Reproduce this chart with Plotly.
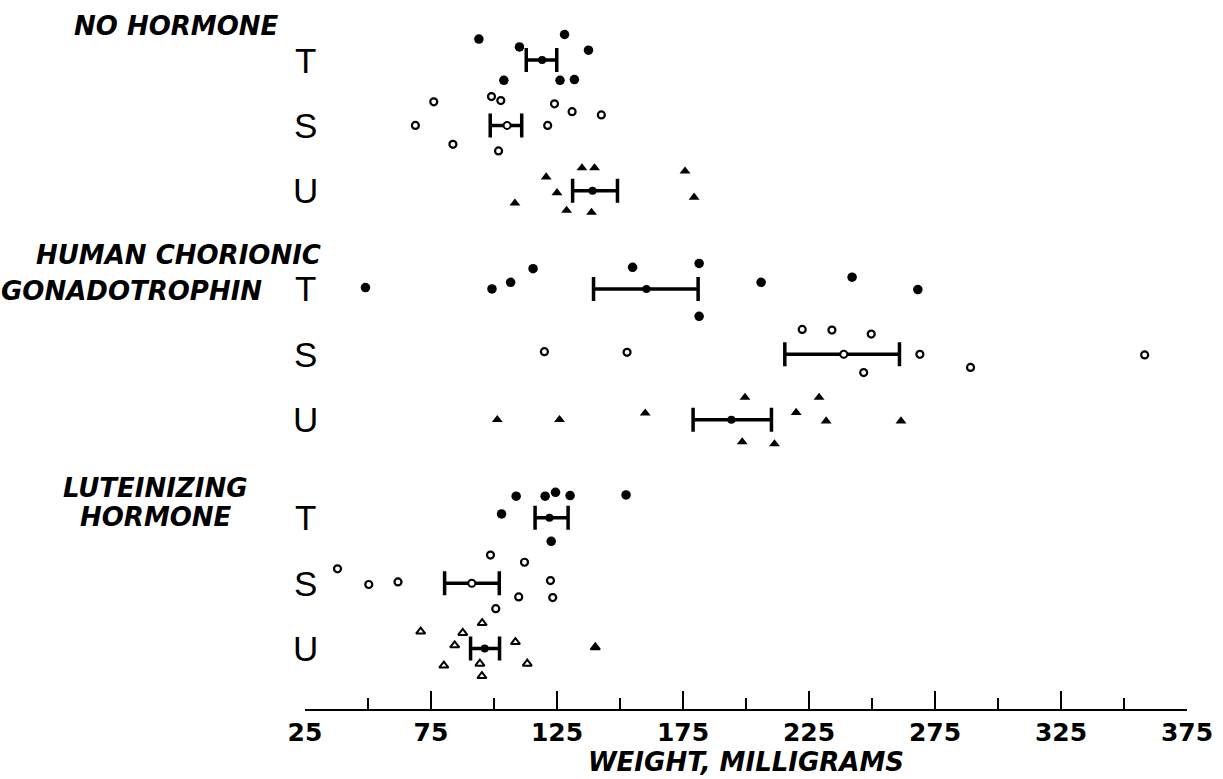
import plotly.graph_objects as go

# ---------------- data (weights, mg) ----------------
groups = ["NO HORMONE", "HUMAN CHORIONIC GONADOTROPHIN", "LUTEINIZING HORMONE"]
row_labels = ["T", "S", "U"]
tick_values = [25, 75, 125, 175, 225, 275, 325, 375]

nh_t = [94.0, 110.1, 128.0, 137.5, 103.9, 126.2, 131.9]
nh_t_dy = [-0.32, -0.20, -0.39, -0.15, 0.31, 0.31, 0.30]
nh_s = [76.1, 68.8, 83.7, 99.0, 102.7, 101.8, 124.0, 131.0, 142.6, 121.3]
nh_s_dy = [-0.36, 0.0, 0.29, -0.44, -0.38, 0.39, -0.33, -0.21, -0.16, 0.0]
nh_u = [120.7, 125.0, 134.9, 139.9, 128.8, 138.7, 108.3, 175.8, 179.4]
nh_u_dy = [-0.21, 0.03, -0.35, -0.35, 0.30, 0.33, 0.19, -0.30, 0.10]

hcg_t = [49.0, 99.2, 106.6, 115.5, 155.0, 181.4, 206.0, 181.4, 242.1, 268.2]
hcg_t_dy = [-0.02, 0.0, -0.10, -0.31, -0.33, -0.39, -0.10, 0.42, -0.18, 0.01]
hcg_s = [120.0, 152.8, 222.3, 234.1, 249.7, 246.7, 269.0, 289.1, 358.2]
hcg_s_dy = [-0.04, -0.03, -0.38, -0.37, -0.31, 0.28, 0.0, 0.20, 0.01]
hcg_u = [101.3, 126.0, 160.0, 199.6, 198.5, 211.3, 229.0, 219.9, 231.8, 261.5]
hcg_u_dy = [0.0, 0.0, -0.10, -0.34, 0.34, 0.37, -0.34, -0.11, 0.02, 0.02]

lh_t = [108.8, 120.3, 124.4, 130.2, 152.4, 103.0, 122.7]
lh_t_dy = [-0.33, -0.33, -0.39, -0.34, -0.35, -0.06, 0.36]
lh_s = [37.9, 50.3, 61.9, 98.6, 112.1, 122.4, 109.8, 123.3, 100.7]
lh_s_dy = [-0.22, 0.02, -0.02, -0.43, -0.32, -0.04, 0.21, 0.22, 0.39]
lh_u = [95.3, 70.9, 87.6, 84.4, 108.5, 80.1, 94.4, 113.2, 95.2, 140.2]
lh_u_dy = [-0.39, -0.26, -0.24, -0.05, -0.10, 0.26, 0.23, 0.23, 0.42, -0.02]

# mean and standard-error limits, in row order NH T,S,U / HCG T,S,U / LH T,S,U
means = [119.1, 105.2, 139.1, 160.5, 238.8, 194.2, 122.0, 91.2, 96.3]
se_low = [112.8, 98.5, 131.2, 139.5, 215.4, 179.0, 116.3, 80.4, 90.7]
se_high = [124.9, 111.0, 149.0, 181.0, 260.9, 210.1, 129.4, 102.1, 102.2]

# ---------------- layout helpers ----------------
W, H = 1223, 779
L, R, T, B = 305, 36, 5, 70
ROW0_PX, ROW_STEP = 60.0, 65.4
row_pos = [0, 1, 2, 3.5, 4.5, 5.5, 7, 8, 9]
y_top = (T - ROW0_PX) / ROW_STEP
y_bot = (H - B - ROW0_PX) / ROW_STEP


def px_x(px):
    return (px - L) / (W - L - R)


def px_y(py):
    return 1 - (py - T) / (H - T - B)


series = [nh_t, nh_s, nh_u, hcg_t, hcg_s, hcg_u, lh_t, lh_s, lh_u]
offsets = [nh_t_dy, nh_s_dy, nh_u_dy, hcg_t_dy, hcg_s_dy, hcg_u_dy,
           lh_t_dy, lh_s_dy, lh_u_dy]

fig = go.Figure()

for i, (vals, dys) in enumerate(zip(series, offsets)):
    kind = i % 3
    r = row_pos[i]
    ys = [r + d for d in dys]
    if kind == 0:
        marker = dict(symbol="circle", size=9.5, color="black")
    elif kind == 1:
        marker = dict(symbol="circle-open", size=7, color="black",
                      line=dict(width=2.2, color="black"))
    else:
        if i == 8:
            symbols = ["triangle-up-open"] * (len(vals) - 1) + ["triangle-up"]
            marker = dict(symbol=symbols, size=8, color="black",
                          line=dict(width=2, color="black"))
        else:
            marker = dict(symbol="triangle-up", size=9.5, color="black",
                          line=dict(width=0))
    fig.add_trace(go.Scatter(x=vals, y=ys, mode="markers", marker=marker,
                             showlegend=False, hoverinfo="x"))

    # mean with standard-error bar
    m = means[i]
    if kind == 1:
        mm = dict(symbol="circle", size=7, color="white",
                  line=dict(width=2, color="black"))
    else:
        mm = dict(symbol="circle", size=8, color="black")
    fig.add_trace(go.Scatter(
        x=[m], y=[r], mode="markers", marker=mm, showlegend=False,
        error_x=dict(type="data", symmetric=False,
                     array=[se_high[i] - m], arrayminus=[m - se_low[i]],
                     color="black", thickness=3.5, width=12),
        hoverinfo="x"))

annotations = []
label_font = dict(family="Liberation Sans, Arial, sans-serif", size=35,
                  color="black")
for i, r in enumerate(row_pos):
    annotations.append(dict(x=25, y=r, xref="x", yref="y",
                            text=row_labels[i % 3], showarrow=False,
                            xanchor="center", yanchor="middle",
                            font=label_font))

gfont = dict(family="DejaVu Sans", size=26, color="black", weight="bold",
             style="italic")
group_lines = [
    ("NO HORMONE", 281, 26, "right"),
    ("HUMAN CHORIONIC", 323, 255, "right"),
    ("GONADOTROPHIN", 264, 291, "right"),
    ("LUTEINIZING", 155, 488, "center"),
    ("HORMONE", 156, 517, "center"),
]
for text, px, py, anchor in group_lines:
    annotations.append(dict(x=px_x(px), y=px_y(py), xref="paper", yref="paper",
                            text=text, showarrow=False, xanchor=anchor,
                            yanchor="middle", font=gfont))

fig.update_layout(
    width=W, height=H,
    margin=dict(l=L, r=R, t=T, b=B),
    paper_bgcolor="white", plot_bgcolor="white",
    annotations=annotations,
    xaxis=dict(
        range=[25, 375], showgrid=False, zeroline=False,
        showline=True, linecolor="black", linewidth=2,
        ticks="inside", ticklen=18, tickwidth=2, tickcolor="black",
        tickvals=tick_values, ticktext=[str(v) for v in tick_values],
        tickfont=dict(family="DejaVu Sans", size=25, color="black",
                      weight="bold"),
        minor=dict(ticks="inside", ticklen=11, tickwidth=2,
                   tickcolor="black", dtick=25, tick0=0, showgrid=False),
        title=dict(text="WEIGHT, MILLIGRAMS", standoff=6,
                   font=dict(family="DejaVu Sans", size=26, color="black",
                             weight="bold", style="italic")),
    ),
    yaxis=dict(range=[y_bot, y_top], visible=False),
)

fig.write_html("out.html", config={"displayModeBar": False},
               post_script="document.body.style.margin='0';")
